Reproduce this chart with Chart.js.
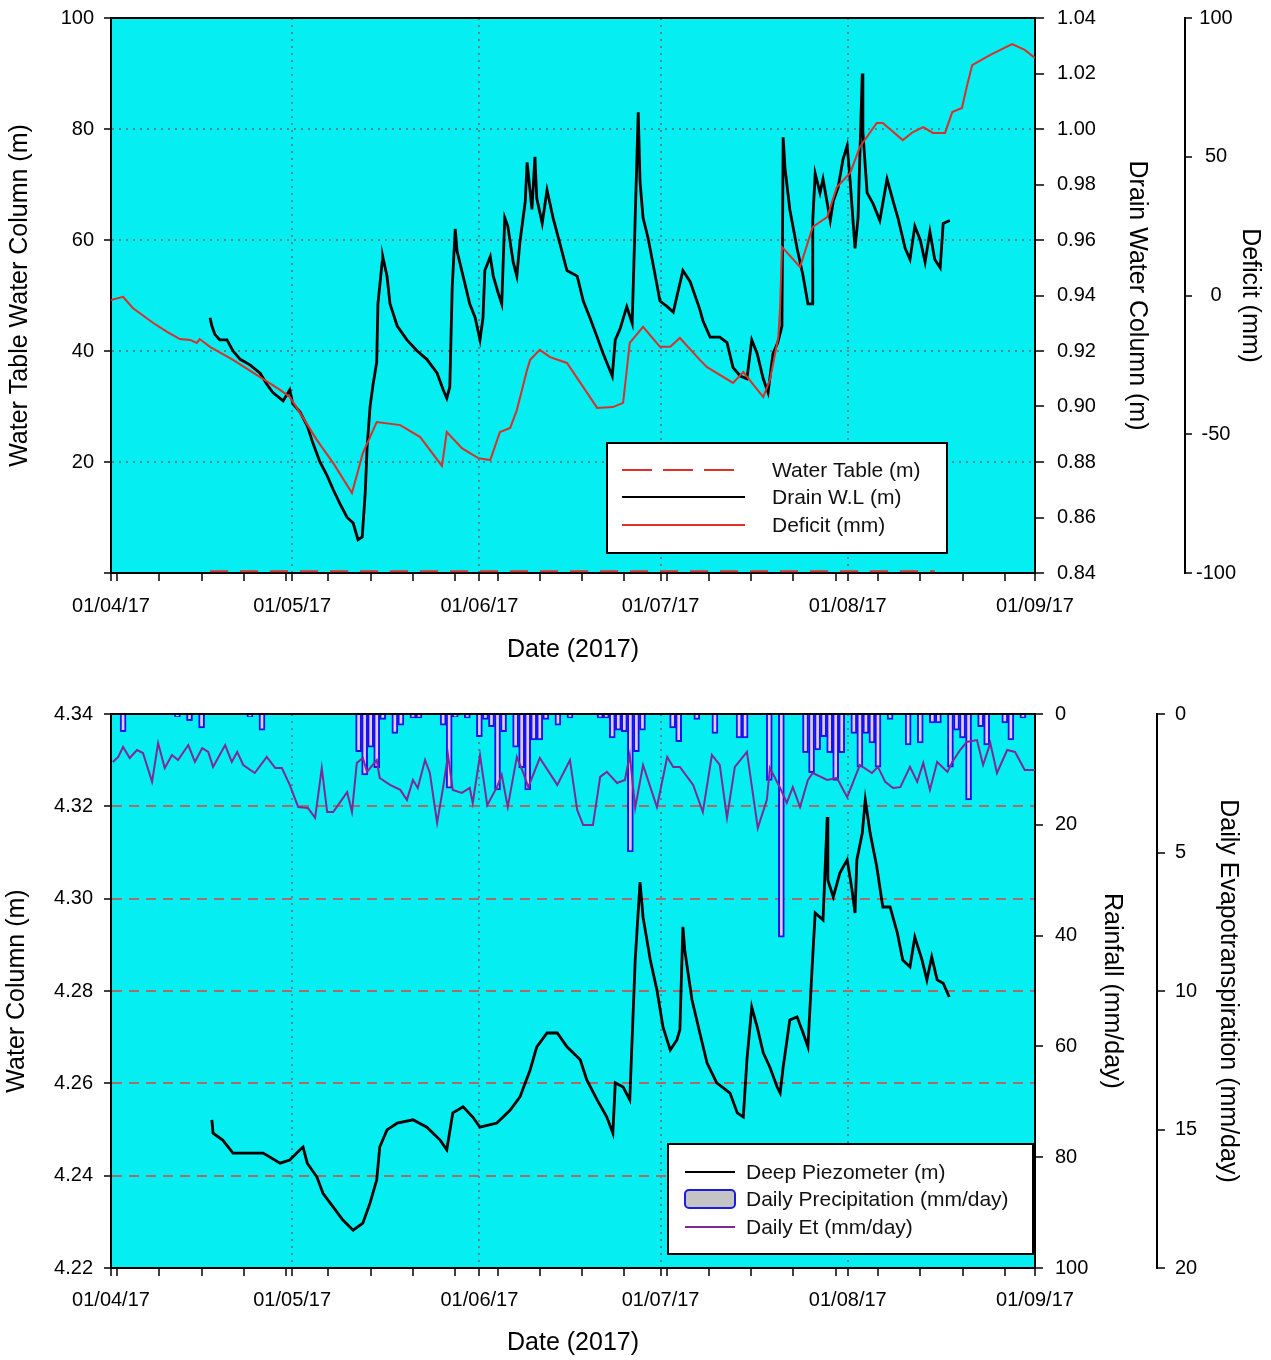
<!DOCTYPE html>
<html>
<head>
<meta charset="utf-8">
<script src="https://cdn.jsdelivr.net/npm/chart.js@4.4.0/dist/chart.umd.min.js"></script>
<style>
  body { margin: 0; background: #fff; }
  .box { position: relative; width: 1271px; height: 680px; }
</style>
</head>
<body>
<div class="box"><canvas id="topChart" width="1271" height="680"></canvas></div>
<div class="box"><canvas id="bottomChart" width="1271" height="680"></canvas></div>
<script>
// x axis: days since 01/04/17
const monthDays = [0, 30, 61, 91, 122, 153];
const monthLabels = ['01/04/17', '01/05/17', '01/06/17', '01/07/17', '01/08/17', '01/09/17'];
const weekDays = [1, 8, 15, 22, 29, 36, 43, 50, 57, 64, 71, 78, 85, 92, 99, 106, 113, 120, 127, 134, 141, 148];

// tick values
const leftTicks = [0, 20, 40, 60, 80, 100];
const drainTicks = [0.84, 0.86, 0.88, 0.90, 0.92, 0.94, 0.96, 0.98, 1.00, 1.02, 1.04];
const deficitTicks = [-100, -50, 0, 50, 100];
const piezoTicks = [4.22, 4.24, 4.26, 4.28, 4.30, 4.32, 4.34];
const rainTicks = [0, 20, 40, 60, 80, 100];
const etTicks = [0, 5, 10, 15, 20];

// top chart
const waterTableDays = [16.4, 136.4];
const waterTableVals = [0.3, 0.3];

const drainDays = [
  16.4, 16.7, 17.2, 18.0, 19.2, 20.2, 21.4, 23.0, 24.7, 25.8,
  26.8, 28.5, 29.6, 30.1, 31.3, 32.5, 33.4, 34.6, 35.8, 36.8,
  37.9, 39.1, 40.1, 40.9, 41.6, 42.1, 42.4, 42.9, 43.4, 44.0,
  44.2, 44.9, 45.0, 45.7, 46.2, 47.4, 49.0, 50.7, 52.3, 54.0,
  55.0, 55.6, 56.1, 56.5, 57.0, 57.3, 58.3, 59.4, 60.3, 61.1,
  61.6, 61.9, 62.8, 63.3, 64.1, 64.7, 65.2, 65.7, 66.6, 67.2,
  67.7, 68.6, 68.9, 69.7, 70.2, 70.5, 71.4, 72.2, 73.2, 74.3,
  75.5, 77.2, 78.2, 79.3, 80.5, 81.5, 83.0, 83.5, 84.3, 85.4,
  86.3, 86.8, 87.3, 87.6, 88.1, 88.9, 89.7, 90.9, 92.1, 93.1,
  94.7, 95.9, 97.5, 98.0, 99.2, 100.8, 102.0, 103.0, 104.2, 105.3,
  106.1, 107.0, 108.0, 108.8, 109.6, 110.4, 111.1, 111.3, 111.6, 112.4,
  113.6, 114.6, 115.4, 116.1, 116.2, 116.6, 117.4, 117.9, 119.1, 119.6,
  120.4, 121.2, 121.9, 122.4, 123.2, 123.7, 124.4, 124.5, 125.2, 126.2,
  127.3, 128.5, 129.5, 130.3, 131.5, 132.3, 133.1, 134.0, 134.8, 135.6,
  136.4, 137.3, 137.8, 138.9
];
const drainVals = [
  0.932, 0.929, 0.926, 0.924, 0.924, 0.920, 0.917, 0.915, 0.912, 0.908,
  0.905, 0.902, 0.906, 0.901, 0.898, 0.893, 0.887, 0.880, 0.875, 0.870,
  0.865, 0.860, 0.858, 0.852, 0.853, 0.869, 0.885, 0.900, 0.908, 0.916,
  0.937, 0.952, 0.954, 0.947, 0.937, 0.929, 0.924, 0.920, 0.917, 0.912,
  0.906, 0.903, 0.907, 0.943, 0.964, 0.956, 0.947, 0.937, 0.932, 0.924,
  0.932, 0.949, 0.954, 0.947, 0.941, 0.937, 0.968, 0.965, 0.952, 0.947,
  0.959, 0.974, 0.988, 0.971, 0.990, 0.975, 0.966, 0.978, 0.968, 0.959,
  0.949, 0.947, 0.938, 0.932, 0.925, 0.919, 0.911, 0.924, 0.928, 0.936,
  0.930, 0.968, 1.006, 0.981, 0.968, 0.961, 0.952, 0.938, 0.936, 0.934,
  0.949, 0.945, 0.935, 0.931, 0.925, 0.925, 0.923, 0.914, 0.911, 0.910,
  0.924, 0.919, 0.910, 0.905, 0.919, 0.923, 0.929, 0.997, 0.986, 0.971,
  0.957, 0.947, 0.937, 0.937, 0.967, 0.984, 0.977, 0.982, 0.967, 0.974,
  0.979, 0.989, 0.994, 0.981, 0.957, 0.968, 1.020, 0.999, 0.977, 0.973,
  0.967, 0.982, 0.974, 0.968, 0.957, 0.953, 0.965, 0.960, 0.952, 0.963,
  0.953, 0.950, 0.966, 0.967
];

const deficitDays = [
  0, 2.0, 3.6, 7.0, 9.3, 11.4, 13.1, 14.2, 14.7, 16.4,
  20.2, 24.7, 28.0, 29.6, 31.3, 34.1, 36.8, 39.9, 41.7, 44.0,
  47.9, 51.2, 54.8, 55.6, 58.1, 60.8, 62.8, 64.4, 66.1, 67.2,
  68.9, 69.4, 71.0, 72.7, 75.5, 78.2, 80.5, 83.1, 84.8, 85.9,
  88.1, 90.9, 92.6, 94.2, 97.5, 98.7, 103.0, 104.7, 108.0, 109.1,
  110.5, 110.8, 111.1, 114.1, 116.2, 118.6, 120.2, 122.4, 124.0, 126.8,
  127.8, 131.1, 132.8, 134.5, 136.1, 138.1, 139.3, 140.9, 141.7, 142.6,
  145.6, 149.2, 151.3, 153.0
];
const deficitVals = [
  -1.6, -0.5, -4.5, -9.9, -13.1, -15.7, -16.0, -17.1, -15.7, -18.5,
  -23.2, -29.4, -34.0, -36.6, -42.3, -52.1, -60.4, -71.2, -56.8, -45.6,
  -46.7, -51.0, -61.4, -49.2, -55.0, -58.6, -59.3, -49.2, -47.7, -41.3,
  -26.8, -23.2, -19.6, -22.2, -24.3, -33.0, -40.5, -40.2, -38.7, -17.1,
  -11.3, -18.5, -18.5, -15.3, -23.2, -25.8, -31.5, -27.6, -36.6, -30.4,
  -15.0, -4.1, 17.5, 10.3, 24.7, 28.3, 39.1, 44.2, 53.5, 62.2,
  62.2, 56.0, 58.9, 60.7, 58.6, 58.6, 66.1, 67.6, 75.2, 83.0,
  86.7, 90.6, 88.5, 85.6
];

// bottom chart
const piezoDays = [
  16.7, 16.9, 18.5, 20.2, 22.5, 25.2, 28.0, 29.6, 31.3, 31.8,
  32.5, 34.1, 35.1, 36.8, 38.4, 40.1, 41.7, 42.9, 44.0, 44.5,
  45.7, 47.4, 50.0, 52.3, 54.5, 55.6, 56.6, 58.3, 59.9, 61.1,
  63.9, 66.1, 67.7, 69.4, 70.5, 72.2, 73.9, 75.5, 77.7, 78.8,
  80.5, 82.1, 83.1, 83.5, 84.8, 85.9, 86.8, 87.6, 88.1, 89.3,
  90.4, 91.4, 92.6, 93.7, 94.2, 94.7, 95.0, 96.2, 97.5, 98.7,
  100.3, 102.5, 103.7, 104.7, 105.3, 106.1, 107.0, 108.0, 109.1, 110.3,
  110.8, 111.3, 112.4, 113.6, 114.6, 115.4, 116.1, 116.6, 117.9, 118.6,
  118.7, 119.6, 120.7, 121.9, 122.7, 123.2, 123.5, 124.4, 124.9, 125.7,
  126.8, 127.8, 129.0, 130.2, 131.1, 132.3, 133.1, 134.3, 135.1, 135.9,
  136.8, 137.8, 138.8
];
const piezoVals = [
  4.2521, 4.2492, 4.2477, 4.2449, 4.2449, 4.2449, 4.2427, 4.2434, 4.2456, 4.2462,
  4.2427, 4.2397, 4.2362, 4.2332, 4.2304, 4.2282, 4.2297, 4.2341, 4.2391, 4.2462,
  4.2499, 4.2514, 4.2521, 4.2505, 4.2477, 4.2456, 4.2536, 4.2549, 4.2527, 4.2505,
  4.2514, 4.2542, 4.2570, 4.2629, 4.2679, 4.2709, 4.2709, 4.2679, 4.2651, 4.2607,
  4.2564, 4.2527, 4.2492, 4.2601, 4.2592, 4.2564, 4.2867, 4.3036, 4.2960, 4.2867,
  4.2802, 4.2722, 4.2672, 4.2694, 4.2716, 4.2939, 4.2889, 4.2781, 4.2709, 4.2644,
  4.2601, 4.2579, 4.2536, 4.2527, 4.2651, 4.2765, 4.2722, 4.2666, 4.2635, 4.2592,
  4.2579, 4.2635, 4.2737, 4.2744, 4.2709, 4.2679, 4.2852, 4.2969, 4.2954, 4.3177,
  4.3040, 4.3004, 4.3056, 4.3084, 4.3019, 4.2969, 4.3084, 4.3142, 4.3214, 4.3142,
  4.3069, 4.2982, 4.2982, 4.2926, 4.2867, 4.2852, 4.2917, 4.2867, 4.2824, 4.2874,
  4.2824, 4.2817, 4.2787
];

const rainDays = [
  2, 11, 13, 15, 23, 25, 41, 42, 43, 44,
  45, 47, 48, 50, 51, 55, 56, 57, 59, 61,
  62, 63, 64, 65, 67, 68, 69, 70, 71, 72,
  74, 76, 81, 82, 83, 84, 85, 86, 87, 88,
  93, 94, 97, 100, 104, 105, 109, 111, 115, 116,
  117, 118, 119, 120, 121, 123, 124, 125, 126, 127,
  129, 132, 134, 136, 137, 139, 140, 141, 142, 144,
  145, 148, 149, 151
];
const rainVals = [
  3.2, 0.5, 1.2, 2.5, 0.5, 2.9, 6.8, 11, 6, 9.7,
  1, 3.5, 2, 0.7, 0.7, 2, 13.4, 0.5, 0.7, 4.1,
  1, 2.3, 13.7, 3.2, 6, 9.7, 13.7, 4.7, 4.7, 1,
  2, 0.7, 0.7, 0.7, 4.3, 2.9, 3.2, 24.9, 6.8, 2.9,
  2.5, 5, 1, 3.5, 4.3, 4.3, 12, 40.3, 7, 10.6,
  6.5, 4.1, 7, 12, 7, 3.5, 9.6, 3.5, 5.2, 9.6,
  1, 5.6, 5.2, 1.6, 1.6, 9.6, 2.9, 4.3, 15.5, 2.3,
  5.6, 1.6, 4.7, 0.7
];

const etDays = [
  0.3, 1.2, 2.0, 3.1, 4.3, 5.3, 6.8, 7.8, 8.9, 10.1,
  11.1, 12.8, 13.9, 15.1, 16.1, 16.9, 18.9, 20.0, 20.9, 21.9,
  23.8, 25.8, 27.2, 28.3, 29.6, 31.0, 32.6, 33.8, 34.9, 35.8,
  36.8, 39.1, 39.9, 40.7, 41.7, 42.4, 44.0, 44.5, 46.2, 47.9,
  49.0, 50.0, 50.8, 52.0, 52.8, 54.0, 55.0, 55.8, 56.6, 58.1,
  59.4, 59.9, 61.1, 62.3, 63.9, 64.7, 65.7, 67.2, 68.2, 69.1,
  71.0, 73.9, 76.0, 77.2, 78.2, 79.8, 81.0, 82.1, 83.8, 85.1,
  85.9, 86.8, 88.1, 90.4, 92.1, 93.1, 94.2, 96.4, 98.0, 99.5,
  100.8, 102.0, 103.3, 105.3, 107.1, 108.6, 109.1, 110.8, 111.9, 112.9,
  114.1, 115.4, 116.2, 118.6, 120.2, 121.9, 122.9, 124.0, 126.0, 127.0,
  128.2, 129.5, 130.7, 132.3, 133.5, 134.5, 135.6, 136.8, 138.5, 139.3,
  140.6, 141.7, 143.4, 144.4, 145.6, 146.7, 148.4, 149.7, 151.3, 153.0
];
const etVals = [
  1.73, 1.55, 1.19, 1.59, 1.30, 1.41, 2.45, 1.05, 1.95, 1.48,
  1.66, 1.12, 1.73, 1.23, 1.37, 1.91, 1.12, 1.73, 1.37, 1.84,
  2.13, 1.55, 1.95, 1.95, 2.56, 3.36, 3.39, 3.75, 1.95, 3.54,
  3.54, 2.82, 3.54, 1.77, 1.59, 2.09, 1.66, 2.31, 2.56, 2.74,
  3.10, 2.38, 2.67, 1.66, 2.13, 3.93, 2.64, 1.48, 2.74, 2.85,
  2.67, 3.21, 1.48, 3.29, 2.64, 2.20, 3.36, 1.55, 2.09, 2.64,
  1.59, 2.56, 1.66, 3.47, 4.01, 4.01, 2.27, 2.09, 2.49, 2.38,
  1.48, 3.39, 1.84, 3.36, 1.55, 1.91, 1.91, 2.56, 3.54, 1.48,
  1.84, 3.75, 1.91, 1.37, 4.12, 3.10, 1.95, 2.67, 3.21, 2.64,
  3.36, 2.38, 2.13, 2.38, 2.31, 3.00, 2.45, 1.84, 2.13, 1.91,
  2.45, 2.67, 2.64, 1.91, 2.45, 1.77, 2.74, 1.73, 2.09, 1.73,
  1.30, 1.01, 0.94, 1.84, 1.05, 2.13, 1.30, 1.37, 2.02, 2.02
];

const FONT = '"Liberation Sans", Arial, sans-serif';
Chart.defaults.font.family = FONT;
Chart.defaults.color = '#000';
Chart.defaults.animation = false;

const CYAN = '#05eef1';
const GRID_DOT = 'rgba(95,115,125,0.8)';
const GRID_DASH = '#a86c6c';
const NONE = 'rgba(0,0,0,0)';

function pts(xs, ys) { return xs.map((x, i) => ({ x: x, y: ys[i] })); }
function fixedTicks(list) { return scale => { scale.ticks = list.map(v => ({ value: v })); }; }

// cyan plot area + top frame line
const plotBg = {
  id: 'plotBg',
  beforeDraw(chart) {
    const { ctx, chartArea: a } = chart;
    ctx.save();
    ctx.fillStyle = CYAN;
    ctx.fillRect(a.left, a.top, a.right - a.left, a.bottom - a.top);
    ctx.restore();
  },
  beforeDatasetsDraw(chart) {
    const { ctx, chartArea: a } = chart;
    ctx.save();
    ctx.strokeStyle = '#000';
    ctx.lineWidth = 2;
    ctx.beginPath();
    ctx.moveTo(a.left, a.top);
    ctx.lineTo(a.right, a.top);
    ctx.stroke();
    ctx.restore();
  }
};

// boxed legend drawn inside the plot
function boxLegend(id, box, sample, textX, rows) {
  return {
    id: id,
    afterDraw(chart) {
      const ctx = chart.ctx;
      ctx.save();
      ctx.fillStyle = '#fff';
      ctx.fillRect(box.x, box.y, box.w, box.h);
      ctx.strokeStyle = '#000';
      ctx.lineWidth = 2;
      ctx.strokeRect(box.x, box.y, box.w, box.h);
      ctx.font = '21px ' + FONT;
      ctx.textBaseline = 'middle';
      rows.forEach(r => {
        if (r.kind === 'rect') {
          ctx.fillStyle = '#c4c4c4';
          ctx.strokeStyle = '#1d1dd8';
          ctx.lineWidth = 2;
          ctx.beginPath();
          ctx.roundRect(sample[0], r.y - 9, sample[1] - sample[0], 18, 4);
          ctx.fill();
          ctx.stroke();
        } else {
          ctx.strokeStyle = r.color;
          ctx.lineWidth = 2;
          ctx.setLineDash(r.dash || []);
          ctx.beginPath();
          ctx.moveTo(sample[0], r.y);
          ctx.lineTo(sample[1], r.y);
          ctx.stroke();
          ctx.setLineDash([]);
        }
        ctx.fillStyle = '#111';
        ctx.fillText(r.label, textX, r.y + 1);
      });
      ctx.restore();
    }
  };
}

function xAxis(height, labelPad, titlePad) {
  return {
    type: 'linear', position: 'bottom', min: 0, max: 153, offset: false,
    afterBuildTicks: scale => {
      scale.ticks = monthDays.concat(weekDays).sort((a, b) => a - b).map(v => ({ value: v }));
    },
    afterFit: s => { s.height = height; s.paddingLeft = 0; s.paddingRight = 0; },
    ticks: {
      autoSkip: false, maxRotation: 0, minRotation: 0, padding: labelPad, font: { size: 20 },
      callback: v => { const i = monthDays.indexOf(v); return i >= 0 ? monthLabels[i] : ''; }
    },
    grid: {
      offset: false,
      color: c => (c.tick && monthDays.includes(c.tick.value) && c.tick.value > 0 && c.tick.value < 153) ? GRID_DOT : NONE,
      lineWidth: 2, tickColor: '#000', tickLength: 8, tickWidth: 1.5
    },
    border: { color: '#000', width: 2, dash: [2, 5] },
    title: { display: true, text: 'Date (2017)', font: { size: 25 }, padding: { top: 0, bottom: titlePad } }
  };
}

function yAxis(o) {
  return {
    type: 'linear', position: o.position, min: o.min, max: o.max, reverse: !!o.reverse, weight: o.weight || 0,
    afterBuildTicks: fixedTicks(o.ticks),
    afterFit: s => { s.width = o.width; s.paddingTop = 0; s.paddingBottom = 0; },
    ticks: { padding: o.pad, font: { size: 20 }, crossAlign: o.crossAlign || 'near', callback: o.fmt },
    grid: {
      drawOnChartArea: !!o.gridColor,
      color: c => (o.gridColor && c.tick && c.tick.value > o.min && c.tick.value < o.max) ? o.gridColor : NONE,
      lineWidth: 2, tickColor: '#000', tickLength: o.tick, tickWidth: 1.5
    },
    border: { color: '#000', width: 2, dash: o.gridDash || [] },
    title: { display: true, text: o.title, font: { size: 25 }, padding: { top: o.titlePad, bottom: 0 } }
  };
}

const common = {
  responsive: false,
  maintainAspectRatio: false,
  events: [],
  plugins: { legend: { display: false }, tooltip: { enabled: false } }
};

new Chart(document.getElementById('topChart'), {
  type: 'line',
  data: {
    datasets: [
      { label: 'Deficit (mm)', data: pts(deficitDays, deficitVals), yAxisID: 'yDef', borderColor: '#d9302c', borderWidth: 2, pointRadius: 0, order: 0 },
      { label: 'Drain W.L (m)', data: pts(drainDays, drainVals), yAxisID: 'yDrain', borderColor: '#000', borderWidth: 2.8, pointRadius: 0, order: 1 },
      { label: 'Water Table (m)', data: pts(waterTableDays, waterTableVals), yAxisID: 'y', borderColor: '#e0302c', borderWidth: 2, borderDash: [18, 12], pointRadius: 0, order: 2 }
    ]
  },
  options: Object.assign({}, common, {
    layout: { padding: { top: 18, left: 0, right: 0, bottom: 0 } },
    scales: {
      x: xAxis(107, 13, 15),
      y: yAxis({ position: 'left', min: 0, max: 100, ticks: leftTicks, width: 111, tick: 7, pad: 10,
        fmt: v => v === 0 ? '' : String(v), gridColor: GRID_DOT, gridDash: [2, 5],
        title: 'Water Table Water Column (m)', titlePad: 5 }),
      yDrain: yAxis({ position: 'right', weight: 0, min: 0.84, max: 1.04, ticks: drainTicks, width: 150, tick: 9, pad: 13,
        fmt: v => v.toFixed(2), title: 'Drain Water Column (m)', titlePad: 33 }),
      yDef: yAxis({ position: 'right', weight: 1, min: -100, max: 100, ticks: deficitTicks, width: 86, tick: 7, pad: 4,
        crossAlign: 'center', fmt: v => String(v), title: 'Deficit (mm)', titlePad: 6 })
    }
  }),
  plugins: [plotBg, boxLegend('topLegend', { x: 607, y: 443, w: 340, h: 110 }, [622, 745], 772, [
    { label: 'Water Table (m)', y: 470, color: '#e0302c', dash: [30, 11] },
    { label: 'Drain W.L (m)', y: 497, color: '#000' },
    { label: 'Deficit (mm)', y: 525, color: '#e0302c' }
  ])]
});

new Chart(document.getElementById('bottomChart'), {
  type: 'line',
  data: {
    datasets: [
      { label: 'Daily Et (mm/day)', data: pts(etDays, etVals), yAxisID: 'yEt', borderColor: '#7d2a96', borderWidth: 2, pointRadius: 0, order: 0 },
      { label: 'Deep Piezometer (m)', data: pts(piezoDays, piezoVals), yAxisID: 'y', borderColor: '#000', borderWidth: 2.8, pointRadius: 0, order: 1 },
      { type: 'bar', label: 'Daily Precipitation (mm/day)', data: pts(rainDays, rainVals), yAxisID: 'yRain',
        backgroundColor: '#e6c8f2', borderColor: '#1414f0', borderWidth: 2, barThickness: 6, order: 2 }
    ]
  },
  options: Object.assign({}, common, {
    layout: { padding: { top: 34, left: 0, right: 0, bottom: 0 } },
    scales: {
      x: xAxis(92, 12, 2),
      y: yAxis({ position: 'left', min: 4.22, max: 4.34, ticks: piezoTicks, width: 111, tick: 7, pad: 11,
        fmt: v => v.toFixed(2), gridColor: GRID_DASH, gridDash: [10, 7],
        title: 'Water Column (m)', titlePad: 2 }),
      yRain: yAxis({ position: 'right', weight: 0, min: 0, max: 100, reverse: true, ticks: rainTicks, width: 122, tick: 8, pad: 12,
        fmt: v => String(v), title: 'Rainfall (mm/day)', titlePad: 30 }),
      yEt: yAxis({ position: 'right', weight: 1, min: 0, max: 20, reverse: true, ticks: etTicks, width: 114, tick: 8, pad: 10,
        fmt: v => String(v), title: 'Daily Evapotranspiration (mm/day)', titlePad: 28 })
    }
  }),
  plugins: [plotBg, boxLegend('bottomLegend', { x: 668, y: 464, w: 365, h: 110 }, [685, 735], 746, [
    { label: 'Deep Piezometer (m)', y: 492, color: '#000' },
    { label: 'Daily Precipitation (mm/day)', y: 519, kind: 'rect' },
    { label: 'Daily Et (mm/day)', y: 547, color: '#7d2a96' }
  ])]
});
</script>
</body>
</html>
